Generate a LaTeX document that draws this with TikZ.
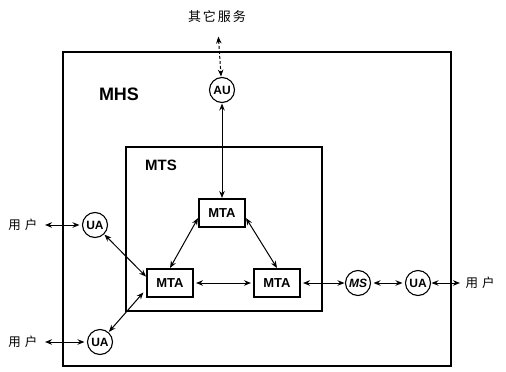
\documentclass[tikz,border=0pt]{standalone}
\usepackage{fontspec}
\setmainfont{Liberation Sans}
\newfontfamily\cjk{Noto Sans CJK SC}
\usetikzlibrary{arrows.meta}
\tikzset{
  agent/.style={draw,circle,minimum size=25pt,inner sep=0pt,outer sep=1pt,
    font=\bfseries\fontsize{12}{12}\selectfont},
  mta/.style={draw,rectangle,minimum width=46pt,minimum height=28pt,inner sep=0pt,outer sep=1pt,
    font=\bfseries\fontsize{13}{13}\selectfont},
  user/.style={font=\cjk\fontsize{12.5}{12.5}\selectfont,inner sep=1pt},
  title/.style={font=\bfseries\fontsize{#1}{#1}\selectfont},
  link/.style={{Stealth[length=7pt,width=5.5pt]}-{Stealth[length=7pt,width=5.5pt]},line width=1pt},
}
\begin{document}
\begin{tikzpicture}[x=1pt,y=-1pt,line width=1.1pt]
\useasboundingbox (0,0) rectangle (506,372);
\draw (63,52) rectangle (451,366);
\node[title=18] (mhs) at (119,94) {MHS};
\draw (126,147) rectangle (322,311);
\node[title=15] (mts) at (161,165) {MTS};

\node[user,font=\cjk\fontsize{13}{13}\selectfont] (svc) at (217,17) {其\hspace{2pt}它\hspace{2pt}服\hspace{2pt}务};
\node[agent] (au) at (222,90) {AU};
\node[mta] (mta1) at (222,213) {MTA};
\node[mta] (mta2) at (170,283) {MTA};
\node[mta] (mta3) at (277,283) {MTA};
\node[agent] (ms) at (358,283) {\itshape MS};
\node[agent] (ua3) at (418,283) {UA};
\node[user] (usr3) at (480,283) {用\hspace{4pt}户};
\node[agent] (ua1) at (95,225) {UA};
\node[user] (usr1) at (23,225) {用\hspace{4pt}户};
\node[agent] (ua2) at (100,342) {UA};
\node[user] (usr2) at (23,342) {用\hspace{4pt}户};

\draw[link,densely dashed,shorten <=12pt] (svc) -- (au);
\draw[link] (au) -- (mta1);
\draw[link] (mta1.192) -- (mta2.north);
\draw[link] (mta1.-12) -- (mta3.north);
\draw[link,shorten <=2pt,shorten >=2pt] (mta2) -- (mta3);
\draw[link,shorten <=2pt] (mta3) -- (ms);
\draw[link,shorten <=2pt,shorten >=2pt] (ms) -- (ua3);
\draw[link,shorten >=4pt] (ua3) -- (usr3);
\draw[link,shorten <=6pt,shorten >=2pt] (usr1) -- (ua1);
\draw[link] (ua1) -- (mta2.165);
\draw[link,shorten <=6pt,shorten >=2pt] (usr2) -- (ua2);
\draw[link,shorten >=4pt] (ua2) -- (mta2.195);
\end{tikzpicture}
\end{document}
